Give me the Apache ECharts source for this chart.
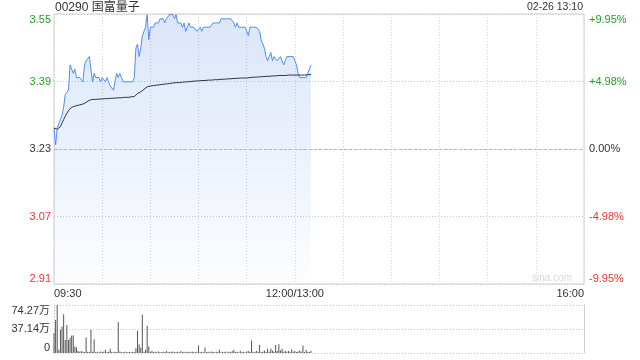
<!DOCTYPE html>
<html><head><meta charset="utf-8">
<script src="https://cdn.jsdelivr.net/npm/echarts@6/dist/echarts.min.js"></script>
<style>html,body{margin:0;padding:0;background:#fff}#c{width:640px;height:360px}</style>
</head><body><div id="c"></div><script>
const stockTitle = '00290 国富量子';
const stampText = '02-26 13:10';
const watermarkText = 'sina.com';
const prevClose = 3.23;
const limitPct = 9.95;

// x tick labels (minutes since 09:30 on the trading-time axis)
const xTickMinutes = [0, 150, 330];
const xTickText = ['09:30', '12:00/13:00', '16:00'];

// y tick labels (bottom -> top)
const priceLabels = ['2.91', '3.07', '3.23', '3.39', '3.55'];
const pctLabels = ['-9.95%', '-4.98%', '0.00%', '+4.98%', '+9.95%'];
const labelTone = ['dn', 'dn', 'flat', 'up', 'up'];
const volLabels = ['0', '37.14万', '74.27万'];
const volMax = 74.27; // 万

// price per minute, 09:30 .. 13:10
const prices = [
3.28,3.24,3.28,3.29,3.30,3.31,3.33,3.36,3.36,3.37,
3.43,3.42,3.41,3.42,3.40,3.40,3.40,3.40,3.39,3.43,
3.44,3.44,3.45,3.42,3.39,3.41,3.40,3.40,3.40,3.39,
3.40,3.40,3.39,3.40,3.39,3.38,3.38,3.37,3.39,3.41,
3.40,3.41,3.40,3.39,3.39,3.39,3.39,3.39,3.39,3.39,
3.40,3.47,3.48,3.45,3.47,3.50,3.51,3.52,3.55,3.49,
3.52,3.52,3.52,3.53,3.53,3.53,3.54,3.54,3.54,3.53,
3.54,3.54,3.55,3.55,3.55,3.54,3.55,3.53,3.53,3.53,
3.52,3.53,3.51,3.52,3.53,3.52,3.52,3.52,3.52,3.51,
3.51,3.52,3.51,3.52,3.52,3.52,3.52,3.52,3.52,3.53,
3.53,3.53,3.53,3.53,3.54,3.54,3.54,3.54,3.54,3.54,
3.54,3.54,3.53,3.52,3.53,3.52,3.52,3.52,3.52,3.52,
3.51,3.50,3.52,3.52,3.52,3.52,3.52,3.52,3.51,3.49,
3.48,3.47,3.45,3.44,3.45,3.46,3.44,3.45,3.45,3.44,
3.44,3.45,3.45,3.43,3.44,3.45,3.45,3.45,3.45,3.45,
3.44,3.43,3.41,3.40,3.40,3.40,3.40,3.40,3.41,3.42,
3.43
];

// average price per minute
const avgPrices = [
3.280,3.278,3.277,3.278,3.283,3.292,3.300,3.308,3.315,3.321,
3.326,3.329,3.331,3.332,3.333,3.334,3.335,3.336,3.337,3.339,
3.341,3.344,3.346,3.347,3.348,3.348,3.348,3.349,3.349,3.349,
3.349,3.350,3.350,3.350,3.350,3.351,3.351,3.351,3.351,3.352,
3.352,3.352,3.352,3.353,3.353,3.353,3.353,3.353,3.354,3.354,
3.355,3.358,3.362,3.364,3.366,3.369,3.372,3.375,3.378,3.379,
3.380,3.381,3.381,3.382,3.382,3.383,3.383,3.384,3.384,3.385,
3.385,3.386,3.386,3.386,3.387,3.387,3.388,3.388,3.388,3.389,
3.389,3.389,3.390,3.390,3.390,3.391,3.391,3.391,3.392,3.392,
3.392,3.393,3.393,3.393,3.393,3.394,3.394,3.394,3.394,3.395,
3.395,3.395,3.395,3.396,3.396,3.396,3.396,3.397,3.397,3.397,
3.397,3.398,3.398,3.398,3.398,3.398,3.399,3.399,3.399,3.399,
3.399,3.400,3.400,3.400,3.401,3.401,3.401,3.402,3.402,3.402,
3.402,3.403,3.403,3.403,3.403,3.404,3.404,3.404,3.404,3.404,
3.405,3.405,3.405,3.405,3.405,3.406,3.406,3.406,3.406,3.406,
3.406,3.406,3.406,3.406,3.406,3.406,3.406,3.407,3.407,3.407,
3.407
];

// volume per minute, in 万 shares
const volumes = [
31,51,74.27,5,36,41,60,20,43.5,20,
23.5,27,27,10,8.5,3,2,3,2,1.5,
24,2,1.5,36,2,21,1.5,2,1,2.5,
1.5,2,5,1.5,2,6.5,2,1,2,1.5,
48,2.5,1,1.5,2,1,1.5,2,1,2,
1.5,7.5,34.5,13,8,59,2,5,42,10,
2,3.5,1.5,2,1,2.5,1.5,1,2,1.5,
3,1,2,1.5,2.5,1,1.5,2,1,3,
1.5,2,1,1.5,2,1,2.5,1.5,1,2,
11.5,1.5,2,1,8.5,1.5,2,1,2.5,1.5,
1,2,1.5,5,1,2,1.5,2.5,1,2,
1.5,3,5,1.5,2,1,3.5,1.5,2,1,
2.5,3,1.5,19.5,2,1.5,3,2,12.5,1.5,
2,4,1.5,6.5,2,7,4,2,12.5,3,
13.5,4,6.5,2,3.5,2,3,1.5,5.5,2,
3,1.5,2.5,4,2,11.5,1.5,5,2,1.5,
3
];

const minutes = prices.map((_, i) => i);
const stepPct = limitPct / 2;
const toStep = p => (p / prevClose - 1) * 100 / stepPct;

const FONT = 'Arial, "Liberation Sans", "Noto Sans CJK SC", sans-serif';
const rich = {
  up: { color: '#1ea51e', fontSize: 11, fontFamily: FONT },
  dn: { color: '#f33333', fontSize: 11, fontFamily: FONT },
  flat: { color: '#333', fontSize: 11, fontFamily: FONT }
};
const GRID_LINE = { type: [1, 2], color: '#c8c8c8', width: 1 };

const chart = echarts.init(document.getElementById('c'), null, { renderer: 'canvas' });
chart.setOption({
  animation: false,
  backgroundColor: '#fff',
  textStyle: { fontFamily: FONT },
  grid: [
    { left: 54, right: 56, top: 14, height: 270, show: true, borderColor: '#cfcfcf', borderWidth: 1, backgroundColor: 'transparent' },
    { left: 54, right: 56, top: 305, height: 48, show: false }
  ],
  xAxis: [
    {
      type: 'value', gridIndex: 0, min: 0, max: 330, interval: 30,
      axisLine: { show: false }, axisTick: { show: false },
      splitLine: { show: true, lineStyle: { type: [1, 2], color: '#d4d4d4' } },
      axisLabel: {
        show: true, margin: 4, color: '#333', fontSize: 11, fontFamily: FONT,
        alignMinLabel: 'left', alignMaxLabel: 'right', showMinLabel: true, showMaxLabel: true,
        formatter: v => { const i = xTickMinutes.indexOf(Math.round(v)); return i >= 0 ? xTickText[i] : ''; }
      }
    },
    {
      type: 'value', gridIndex: 1, min: 0, max: 330, interval: 30,
      axisLine: { show: false }, axisTick: { show: false },
      splitLine: { show: false }, axisLabel: { show: false }
    }
  ],
  yAxis: [
    {
      type: 'value', gridIndex: 0, position: 'left', min: -2, max: 2, interval: 1,
      axisLine: { show: false }, axisTick: { show: false },
      splitLine: { show: true, lineStyle: GRID_LINE },
      axisLabel: {
        margin: 3, verticalAlignMaxLabel: 'top', verticalAlignMinLabel: 'bottom', rich,
        formatter: v => { const i = Math.round(v) + 2; return '{' + labelTone[i] + '|' + priceLabels[i] + '}'; }
      }
    },
    {
      type: 'value', gridIndex: 0, position: 'right', min: -2, max: 2, interval: 1,
      axisLine: { show: false }, axisTick: { show: false }, splitLine: { show: false },
      axisLabel: {
        margin: 5, verticalAlignMaxLabel: 'top', verticalAlignMinLabel: 'bottom', rich,
        formatter: v => { const i = Math.round(v) + 2; return '{' + labelTone[i] + '|' + pctLabels[i] + '}'; }
      }
    },
    {
      type: 'value', gridIndex: 1, position: 'left', min: 0, max: volMax, interval: volMax / 2,
      axisLine: { show: true, lineStyle: { type: [1, 2], color: '#c8c8c8' } }, axisTick: { show: false },
      splitLine: { show: true, lineStyle: GRID_LINE },
      axisLabel: {
        margin: 4, color: '#333', fontSize: 11, fontFamily: FONT,
        verticalAlignMaxLabel: 'top', verticalAlignMinLabel: 'bottom',
        formatter: v => volLabels[Math.round(v / (volMax / 2))]
      }
    },
    {
      type: 'value', gridIndex: 1, position: 'right', min: 0, max: volMax, interval: volMax / 2,
      axisLine: { show: true, lineStyle: { color: '#cfcfcf' } }, axisTick: { show: false },
      splitLine: { show: false }, axisLabel: { show: false }
    }
  ],
  graphic: [
    { type: 'text', left: 55, top: 2, style: { text: stockTitle, fill: '#333', font: '12px ' + FONT } },
    { type: 'text', right: 57, top: 2, style: { text: stampText, fill: '#333', font: '10.5px ' + FONT } },
    { type: 'text', left: 532, top: 273, z: 0, style: { text: watermarkText, fill: '#d8d8d8', font: '10px ' + FONT } }
  ],
  series: [
    {
      name: 'price', type: 'line', xAxisIndex: 0, yAxisIndex: 0,
      data: prices.map((p, i) => [minutes[i], toStep(p)]),
      symbol: 'none', smooth: false,
      lineStyle: { color: '#4f8ef0', width: 1 },
      areaStyle: {
        origin: 'start',
        color: new echarts.graphic.LinearGradient(0, 0, 0, 1, [
          { offset: 0, color: 'rgba(80,135,230,0.30)' },
          { offset: 1, color: 'rgba(80,135,230,0.02)' }
        ])
      },
      markLine: {
        silent: true, symbol: 'none', label: { show: false },
        lineStyle: { type: [3, 2], color: '#b8b8b8', width: 1 },
        data: [{ yAxis: 0 }]
      },
      z: 3
    },
    {
      name: 'avg', type: 'line', xAxisIndex: 0, yAxisIndex: 0,
      data: avgPrices.map((p, i) => [minutes[i], toStep(p)]),
      symbol: 'none', lineStyle: { color: '#2d3542', width: 1 }, z: 4
    },
    {
      name: 'volume', type: 'bar', xAxisIndex: 1, yAxisIndex: 2,
      data: volumes.map((v, i) => [minutes[i], v]),
      barWidth: 1, itemStyle: { color: '#555' }
    }
  ]
});
</script></body></html>
